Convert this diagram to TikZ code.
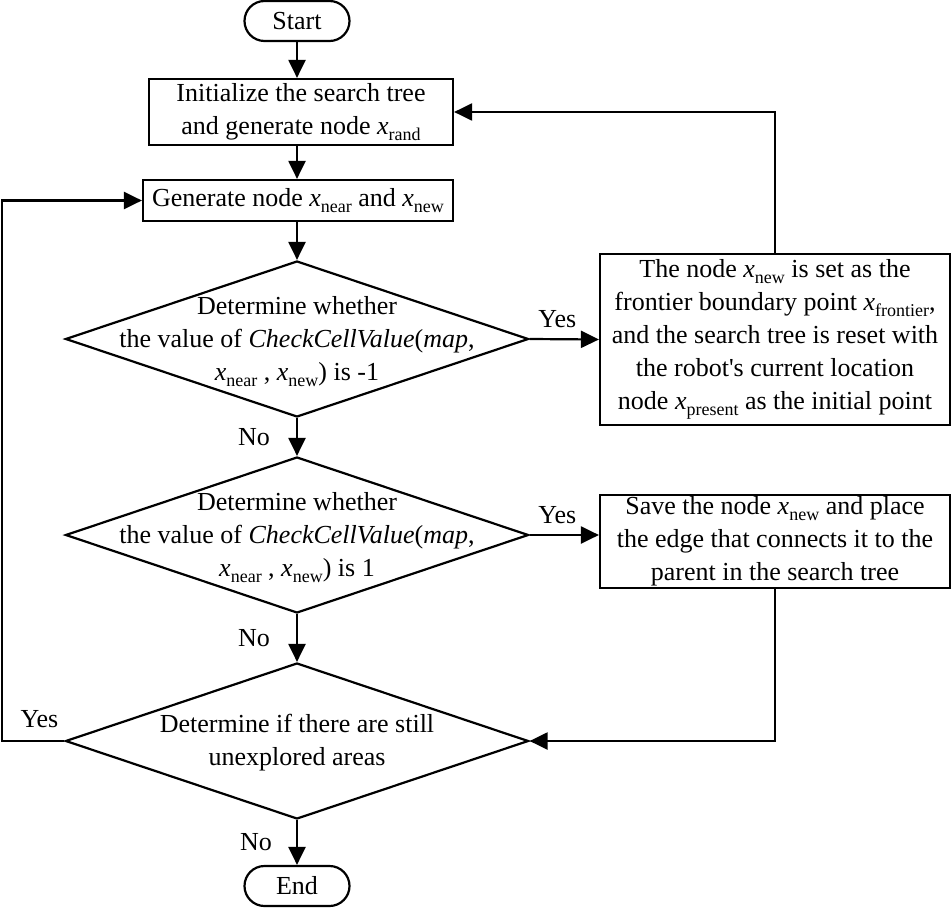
\documentclass[tikz,border=0pt]{standalone}
\usepackage{fontspec}
\setmainfont{Liberation Serif}
\usepackage{tikz}
\usetikzlibrary{arrows.meta, positioning, shapes.geometric}

% x with an upright, lowered subscript
\newcommand{\xsub}[1]{\textit{x}\raisebox{-0.22em}{\fontsize{18}{18}\selectfont #1}}
% text that may run past the corners of a decision
\newcommand{\dtext}[1]{\smash{\raisebox{-8pt}{\makebox[0pt]{\begin{tabular}{@{}c@{}}#1\end{tabular}}}}}

\begin{document}
\begin{tikzpicture}[
    x=1pt, y=-1pt,
    font=\fontsize{26}{33}\selectfont,
    box/.style={rectangle, draw=black, line width=2.2pt,
                align=center, inner sep=2pt},
    decision/.style={diamond, draw=black, line width=2.2pt, aspect=2.97,
                minimum width=463pt, minimum height=156pt, inner sep=0pt},
    terminal/.style={rectangle, rounded corners=20pt, draw=black, line width=2.2pt,
                minimum width=105pt, minimum height=40pt, inner sep=0pt},
    arrow/.style={-{Triangle[length=18pt, width=17pt]}, line width=2.2pt},
    lbl/.style={inner sep=0pt}
  ]
  \useasboundingbox (0,0) rectangle (952,912);

  \node[terminal] (start) at (297,21) {Start};
  \node[box, minimum width=304pt, minimum height=66pt] (init) at (301,112)
    {Initialize the search tree\\and generate node \xsub{rand}};
  \node[box, minimum width=310pt, minimum height=41pt] (gen) at (298,200.5)
    {Generate node \xsub{near} and \xsub{new}};
  \node[decision] (chk1) at (297,339)
    {\dtext{Determine whether\\the value of \textit{CheckCellValue}(\textit{map},\\\xsub{near} , \xsub{new}) is -1}};
  \node[box, minimum width=350pt, minimum height=171pt] (reset) at (775,339.5)
    {The node \xsub{new} is set as the\\frontier boundary point \xsub{frontier},\\and the search tree is reset with\\the robot\textquotesingle s current location\\node \xsub{present} as the initial point};
  \node[decision] (chk2) at (297,535)
    {\dtext{Determine whether\\the value of \textit{CheckCellValue}(\textit{map},\\\xsub{near} , \xsub{new}) is 1}};
  \node[box, minimum width=350pt, minimum height=87pt] (save) at (775,541.5)
    {Save the node \xsub{new} and place\\the edge that connects it to the\\parent in the search tree};
  \node[decision] (more) at (297,741)
    {\dtext{Determine if there are still\\unexplored areas}};
  \node[terminal] (end) at (297,886) {End};
  \coordinate (back) at (2,0);

  \draw[arrow] (start.south) -- (start.south |- init.north);
  \draw[arrow] (init.south -| start) -- (gen.north -| start);
  \draw[arrow] (gen.south -| start) -- (chk1.north);
  \draw[arrow] (chk1.east) -- node[lbl, pos=0.4, above=10pt] {Yes} (reset.west);
  \draw[arrow] (reset.north) |- (init.east);
  \draw[arrow] (chk1.south) -- node[lbl, left=26pt] {No} (chk2.north);
  \draw[arrow] (chk2.east) -- node[lbl, pos=0.4, above=10pt] {Yes} (chk2.east -| save.west);
  \draw[arrow] (chk2.south) -- node[lbl, left=26pt] {No} (more.north);
  \draw[arrow] (save.south) |- (more.east);
  \draw[arrow] (more.west) -- node[lbl, pos=0.4, above=12pt] {Yes} (more.west -| back) |- (gen.west);
  \draw[arrow] (more.south) -- node[lbl, left=24pt] {No} (end.north);
\end{tikzpicture}
\end{document}
